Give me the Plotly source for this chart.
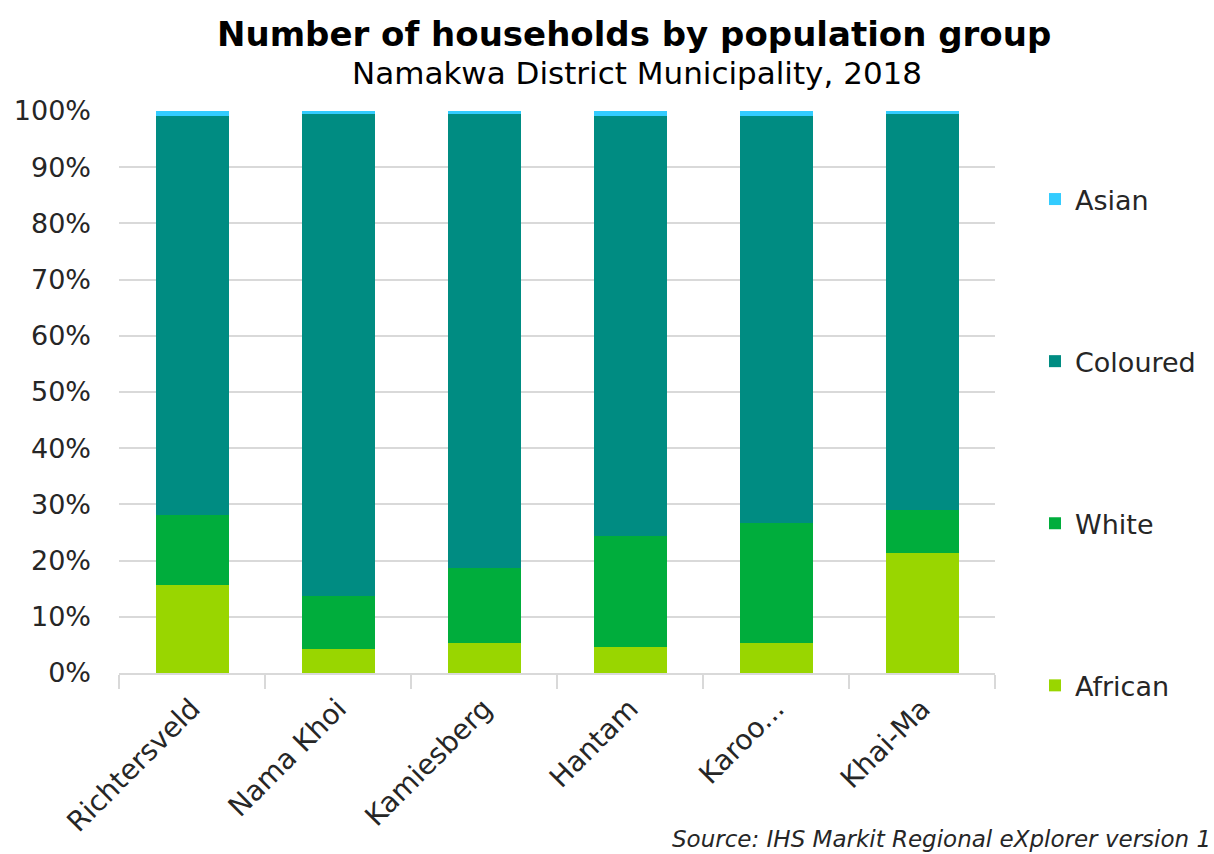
import plotly.graph_objects as go

# Local municipalities in Namakwa District
municipalities = ["Richtersveld", "Nama Khoi", "Kamiesberg", "Hantam", "Karoo...", "Khai-Ma"]

# Share of households by population group (%), 2018
african = [15.6, 4.3, 5.3, 4.6, 5.3, 21.3]
white = [12.6, 9.4, 13.3, 19.8, 21.4, 7.7]
coloured = [71.0, 85.8, 80.9, 74.7, 72.4, 70.5]
asian = [0.8, 0.5, 0.5, 0.9, 0.9, 0.5]

y_ticks = [0, 10, 20, 30, 40, 50, 60, 70, 80, 90, 100]

# (name, values, colour, legend position from top)
series = [
    ("African", african, "#99D600", 4),
    ("White", white, "#00AD3C", 3),
    ("Coloured", coloured, "#008C82", 2),
    ("Asian", asian, "#33CCFF", 1),
]

FONT = "DejaVu Sans, Verdana, sans-serif"
L, R, T, B = 119, 219, 111, 181
W, H = 1214, 854
pw, ph = W - L - R, H - T - B


def px_x(x):
    return (x - L) / pw


def px_y(y):
    return (H - B - y) / ph


fig = go.Figure()
for name, vals, color, rank in series:
    fig.add_trace(go.Bar(
        x=municipalities, y=vals, name=name,
        marker=dict(color=color, line=dict(width=0)),
        legendgroup=name, legendrank=rank,
    ))

fig.update_layout(
    barmode="stack",
    bargap=0.5,
    width=W, height=H,
    margin=dict(l=L, r=R, t=T, b=B, autoexpand=False),
    plot_bgcolor="white", paper_bgcolor="white",
    font=dict(family=FONT, color="#262626", size=20),
    showlegend=True,
    legend=dict(
        x=px_x(1035), y=px_y(175), xanchor="left", yanchor="top",
        traceorder="grouped",
        tracegroupgap=124,
        font=dict(size=27, family=FONT, color="#262626"),
        itemwidth=30,
    ),
    annotations=[
        dict(text="<b>Number of households by population group</b>",
             x=px_x(634), y=px_y(34), xref="paper", yref="paper", showarrow=False,
             yanchor="middle", font=dict(size=34, family=FONT, color="#000000")),
        dict(text="Namakwa District Municipality, 2018",
             x=px_x(637), y=px_y(73), xref="paper", yref="paper", showarrow=False,
             yanchor="middle", font=dict(size=31, family=FONT, color="#000000")),
        dict(text="<i>Source: IHS Markit Regional eXplorer version 1</i>",
             x=px_x(1213), y=px_y(839), xref="paper", yref="paper", showarrow=False,
             xanchor="right", yanchor="middle",
             font=dict(size=23, family=FONT, color="#262626")),
    ],
)

fig.update_yaxes(
    range=[0, 100], tickvals=y_ticks, ticktext=[f"{v}%" for v in y_ticks],
    showgrid=True, gridcolor="#D9D9D9", gridwidth=2,
    zeroline=False, showline=False, ticks="",
    ticklabelstandoff=27,
    tickfont=dict(size=27, family=FONT, color="#262626"),
)
fig.update_xaxes(
    showline=True, linecolor="#D9D9D9", linewidth=2,
    ticks="outside", tickson="boundaries", ticklen=14, tickcolor="#D9D9D9", tickwidth=2,
    tickangle=-45, ticklabelstandoff=6,
    tickfont=dict(size=28, family=FONT, color="#262626"),
)

fig.write_html("out.html")
